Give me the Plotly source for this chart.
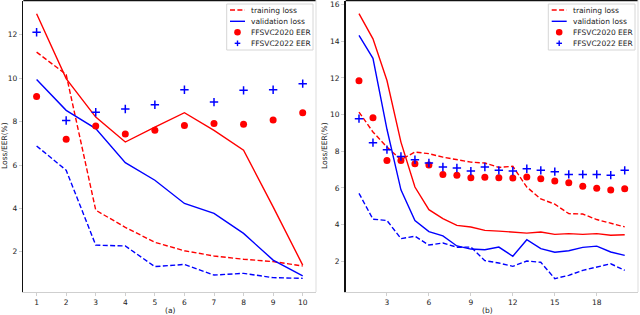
import plotly.graph_objects as go

# ---------------- data: panel (a) ----------------
epochs_a = [1, 2, 3, 4, 5, 6, 7, 8, 9, 10]
train20_a = [11.2, 10.17, 3.92, 3.13, 2.44, 2.05, 1.81, 1.66, 1.55, 1.35]
valid20_a = [12.97, 9.98, 8.21, 7.06, 7.75, 8.41, 7.6, 6.68, 4.07, 1.39]
train22_a = [6.88, 5.76, 2.31, 2.27, 1.32, 1.42, 0.93, 1.01, 0.81, 0.78]
valid22_a = [9.94, 8.52, 7.68, 6.11, 5.3, 4.23, 3.77, 2.85, 1.62, 0.89]
eer20_a = [9.16, 7.19, 7.8, 7.43, 7.6, 7.82, 7.91, 7.88, 8.07, 8.41]
eer22_a = [12.12, 8.05, 8.43, 8.58, 8.78, 9.47, 8.9, 9.44, 9.47, 9.75]

# ---------------- data: panel (b) ----------------
epochs_b = list(range(1, 21))
train20_b = [10.14, 9.05, 8.23, 7.54, 7.96, 7.87, 7.68, 7.54, 7.41, 7.36,
             7.12, 7.18, 6.05, 5.4, 5.12, 4.6, 4.58, 4.28, 4.07, 3.88]
valid20_b = [15.5, 14.13, 11.86, 8.5, 6.05, 4.82, 4.33, 3.96, 3.87, 3.69,
             3.65, 3.6, 3.54, 3.6, 3.47, 3.51, 3.47, 3.51, 3.42, 3.45]
train22_b = [5.71, 4.3, 4.23, 3.24, 3.37, 2.89, 3.0, 2.77, 2.78, 2.04,
             1.91, 1.73, 2.02, 1.95, 1.06, 1.24, 1.51, 1.71, 1.87, 1.51]
valid22_b = [14.32, 13.07, 9.2, 5.9, 4.23, 3.62, 3.39, 2.84, 2.67, 2.63,
             2.78, 2.28, 3.18, 2.69, 2.5, 2.58, 2.76, 2.83, 2.51, 2.33]
eer20_b = [11.85, 9.83, 7.5, 7.5, 7.32, 7.25, 6.74, 6.7, 6.56, 6.58,
           6.56, 6.54, 6.6, 6.5, 6.38, 6.29, 6.09, 5.98, 5.89, 5.96]
eer22_b = [9.78, 8.47, 8.09, 7.72, 7.54, 7.36, 7.14, 7.09, 6.92, 7.14,
           6.96, 6.92, 7.05, 6.96, 6.89, 6.74, 6.74, 6.74, 6.7, 6.96]

ticks_a_x = [1, 2, 3, 4, 5, 6, 7, 8, 9, 10]
ticks_a_y = [2, 4, 6, 8, 10, 12]
ticks_b_x = [3, 6, 9, 12, 15, 18]
ticks_b_y = [2, 4, 6, 8, 10, 12, 14, 16]

legend_labels = ["training loss", "validation loss", "FFSVC2020 EER", "FFSVC2022 EER"]
xlabels = ["(a)", "(b)"]
ylabel = "Loss/EER(%)"

RED = "#ff0000"
BLUE = "#0000ff"
FONT = "DejaVu Sans"
W, H = 640, 315
DASH = "5px,2.4px"

fig = go.Figure()


def add_panel(xa, ya, x, tr20, va20, tr22, va22, e20, e22):
    common = dict(xaxis=xa, yaxis=ya, showlegend=False, hoverinfo="skip")
    fig.add_trace(go.Scatter(x=x, y=tr20, mode="lines",
                             line=dict(color=RED, width=1.4, dash=DASH), **common))
    fig.add_trace(go.Scatter(x=x, y=va20, mode="lines",
                             line=dict(color=RED, width=1.4), **common))
    fig.add_trace(go.Scatter(x=x, y=tr22, mode="lines",
                             line=dict(color=BLUE, width=1.4, dash=DASH), **common))
    fig.add_trace(go.Scatter(x=x, y=va22, mode="lines",
                             line=dict(color=BLUE, width=1.4), **common))
    fig.add_trace(go.Scatter(x=x, y=e20, mode="markers",
                             marker=dict(color=RED, size=7, symbol="circle"), **common))
    fig.add_trace(go.Scatter(x=x, y=e22, mode="markers",
                             marker=dict(color=BLUE, size=6, symbol="cross-thin",
                                         line=dict(color=BLUE, width=1.5)), **common))


add_panel("x", "y", epochs_a, train20_a, valid20_a, train22_a, valid22_a, eer20_a, eer22_a)
add_panel("x2", "y2", epochs_b, train20_b, valid20_b, train22_b, valid22_b, eer20_b, eer22_b)

ydom = [(H - 292) / H, 1 - 0.5 / H]
tickfont = dict(family=FONT, size=7.5, color="#222222")
axis_common = dict(showgrid=False, zeroline=False, ticks="outside", ticklen=3,
                   tickwidth=1, tickfont=tickfont)

fig.update_layout(
    width=W, height=H,
    margin=dict(l=0, r=0, t=0, b=0),
    paper_bgcolor="white", plot_bgcolor="white",
    showlegend=False,
    xaxis=dict(domain=[23.3 / W, 316 / W], range=[0.55, 10.45], tickvals=ticks_a_x,
               showline=True, linecolor="#cfcfcf", linewidth=1, tickcolor="#cfcfcf",
               anchor="y", **axis_common),
    yaxis=dict(domain=ydom, range=[0.15, 13.58], tickvals=ticks_a_y,
               showline=True, linecolor="#111111", linewidth=1.6, tickcolor="#cfcfcf",
               anchor="x", **axis_common),
    xaxis2=dict(domain=[345.7 / W, 638 / W], range=[0.05, 20.95], tickvals=ticks_b_x,
                showline=True, linecolor="#cfcfcf", linewidth=1, tickcolor="#cfcfcf",
                anchor="y2", **axis_common),
    yaxis2=dict(domain=ydom, range=[0.33, 16.22], tickvals=ticks_b_y,
                showline=True, linecolor="#111111", linewidth=1.6, tickcolor="#cfcfcf",
                anchor="x2", **axis_common),
)


def px(x):
    return x / W


def py(y):
    return 1 - y / H


shapes = []
annotations = []

# top and right spines
for x0, x1 in [(23.3, 316), (345.7, 638)]:
    shapes.append(dict(type="line", xref="paper", yref="paper", x0=px(x0), x1=px(x1),
                       y0=py(0.5), y1=py(0.5), line=dict(color="#111111", width=1.4)))
    shapes.append(dict(type="line", xref="paper", yref="paper", x0=px(x1), x1=px(x1),
                       y0=py(0), y1=py(292), line=dict(color="#dddddd", width=1)))

# custom legends
for (bx0, bx1, sx0, sx1, tx) in [(226.7, 313, 230, 245, 250), (548.3, 635, 551.7, 566.7, 572)]:
    shapes.append(dict(type="rect", xref="paper", yref="paper", x0=px(bx0), x1=px(bx1),
                       y0=py(4), y1=py(50), line=dict(color="#d6d6d6", width=1),
                       fillcolor="rgba(255,255,255,0.85)", layer="above"))
    rows = [10, 21.3, 32.3, 43.3]
    shapes.append(dict(type="line", xref="paper", yref="paper", x0=px(sx0), x1=px(sx1),
                       y0=py(rows[0]), y1=py(rows[0]),
                       line=dict(color=RED, width=1.4, dash=DASH), layer="above"))
    shapes.append(dict(type="line", xref="paper", yref="paper", x0=px(sx0), x1=px(sx1),
                       y0=py(rows[1]), y1=py(rows[1]),
                       line=dict(color=BLUE, width=1.4), layer="above"))
    cx = (sx0 + sx1) / 2
    r = 3.3
    shapes.append(dict(type="circle", xref="paper", yref="paper",
                       x0=px(cx - r), x1=px(cx + r), y0=py(rows[2] - r), y1=py(rows[2] + r),
                       fillcolor=RED, line=dict(color=RED, width=0), layer="above"))
    c = 2.8
    shapes.append(dict(type="line", xref="paper", yref="paper", x0=px(cx - c), x1=px(cx + c),
                       y0=py(rows[3]), y1=py(rows[3]), line=dict(color=BLUE, width=1.4),
                       layer="above"))
    shapes.append(dict(type="line", xref="paper", yref="paper", x0=px(cx), x1=px(cx),
                       y0=py(rows[3] - c), y1=py(rows[3] + c), line=dict(color=BLUE, width=1.4),
                       layer="above"))
    for lab, ry in zip(legend_labels, rows):
        annotations.append(dict(x=px(tx - 1), y=py(ry), xref="paper", yref="paper",
                                text=lab, showarrow=False, xanchor="left", yanchor="middle",
                                font=dict(family=FONT, size=7.5, color="#222222")))

# axis titles
for xl, cx in zip(xlabels, [170, 487]):
    annotations.append(dict(x=px(cx), y=py(310.5), xref="paper", yref="paper", text=xl,
                            showarrow=False, xanchor="center", yanchor="middle",
                            font=dict(family=FONT, size=7.5, color="#222222")))
for cx in [4, 324]:
    annotations.append(dict(x=px(cx), y=py(146), xref="paper", yref="paper", text=ylabel,
                            showarrow=False, textangle=-90, xanchor="center", yanchor="middle",
                            font=dict(family=FONT, size=7.5, color="#222222")))

fig.update_layout(shapes=shapes, annotations=annotations)
fig.write_html("out.html",
               config={"displayModeBar": False, "staticPlot": True},
               post_script="document.body.style.margin='0px';document.body.style.overflow='hidden';")
